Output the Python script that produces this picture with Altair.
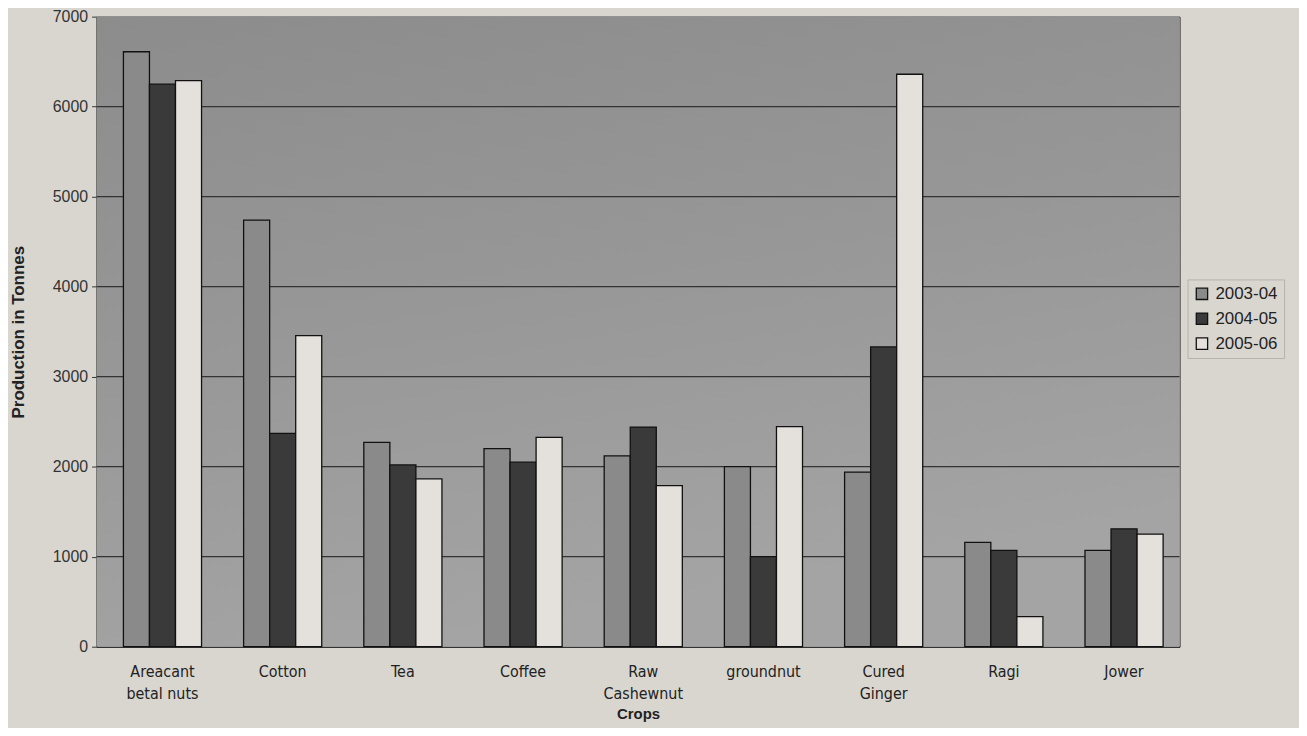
import altair as alt
import pandas as pd

crops = ["Areacant\nbetal nuts", "Cotton", "Tea", "Coffee", "Raw\nCashewnut",
         "groundnut", "Cured\nGinger", "Ragi", "Jower"]
years = ["2003-04", "2004-05", "2005-06"]
v_2003_04 = [6610, 4740, 2270, 2200, 2120, 2000, 1940, 1160, 1070]
v_2004_05 = [6250, 2370, 2020, 2050, 2440, 1000, 3330, 1070, 1310]
v_2005_06 = [6290, 3455, 1865, 2325, 1790, 2445, 6360, 335, 1250]
colors = ["#8a8a8a", "#3a3a3a", "#e4e1dc"]
y_ticks = [0, 1000, 2000, 3000, 4000, 5000, 6000, 7000]

rows = []
for series, vals in zip(years, [v_2003_04, v_2004_05, v_2005_06]):
    for c, v in zip(crops, vals):
        rows.append({"Crop": c, "Year": series, "Value": v})
df = pd.DataFrame(rows)
grid_df = pd.DataFrame({"Value": y_ticks[1:-1]})

font = "Liberation Sans"
narrow = "DejaVu Sans Condensed, Liberation Sans, sans-serif"

bg_grad = alt.LinearGradient(
    gradient="linear", x1=0, y1=0, x2=0.3, y2=1,
    stops=[alt.GradientStop(offset=0, color="#8c8c8c"),
           alt.GradientStop(offset=0.5, color="#979797"),
           alt.GradientStop(offset=1, color="#a4a4a4")])

bg = alt.Chart(pd.DataFrame({"a": [0]})).mark_rect(color=bg_grad).encode(
    x=alt.value(0), x2=alt.value("width"), y=alt.value(0), y2=alt.value("height"))

y_enc = alt.Y("Value:Q", scale=alt.Scale(domain=[0, 7000], nice=False),
              axis=alt.Axis(title="Production in Tonnes", values=y_ticks, grid=False,
                            format="d",
                            labelFont=font, labelFontSize=16, labelColor="#333333",
                            labelPadding=4, tickSize=5, tickColor="#333333",
                            titleFont=font, titleFontSize=17, titleFontWeight="bold",
                            titleColor="#222222", titlePadding=25,
                            domainColor="#222222"))

grid = alt.Chart(grid_df).mark_rule(color="#333333", strokeWidth=1.2).encode(y=y_enc)

bars = alt.Chart(df).mark_bar(stroke="#111111", strokeWidth=1.3).encode(
    x=alt.X("Crop:N", sort=crops,
            scale=alt.Scale(paddingInner=0.35, paddingOuter=0.18, align=0.62),
            axis=alt.Axis(title="Crops", labelAngle=0, ticks=False,
                          labelExpr="split(datum.label, '\\n')",
                          labelFont=narrow, labelFontSize=16,
                          labelColor="#222222", labelPadding=17, labelLineHeight=22,
                          titleFont=font, titleFontSize=15, titleFontWeight="bold",
                          titleColor="#222222", titlePadding=5,
                          domainColor="#222222", grid=False)),
    xOffset=alt.XOffset("Year:N", sort=years, scale=alt.Scale(paddingInner=0, paddingOuter=0)),
    y=y_enc,
    color=alt.Color("Year:N", sort=years,
                    scale=alt.Scale(domain=years, range=colors),
                    legend=alt.Legend(title=None, orient="none", legendX=1096, legendY=264,
                                      symbolType="square", symbolSize=130,
                                      symbolStrokeColor="#111111", symbolStrokeWidth=1.3,
                                      labelFont=font, labelFontSize=17, labelColor="#222222",
                                      rowPadding=7, padding=6, strokeColor="#b5b2ac",
                                      labelOffset=5)),
)

chart = alt.layer(bg, grid, bars).properties(
    width=1088, height=633,
    autosize=alt.AutoSizeParams(type="none"),
    padding={"left": 89, "top": 7, "right": 120, "bottom": 80},
    background="#d9d6d0",
).configure_view(
    stroke="#222222",
    strokeWidth=1,
)

chart.save("out.html", embed_options={"renderer": "svg", "actions": False})
